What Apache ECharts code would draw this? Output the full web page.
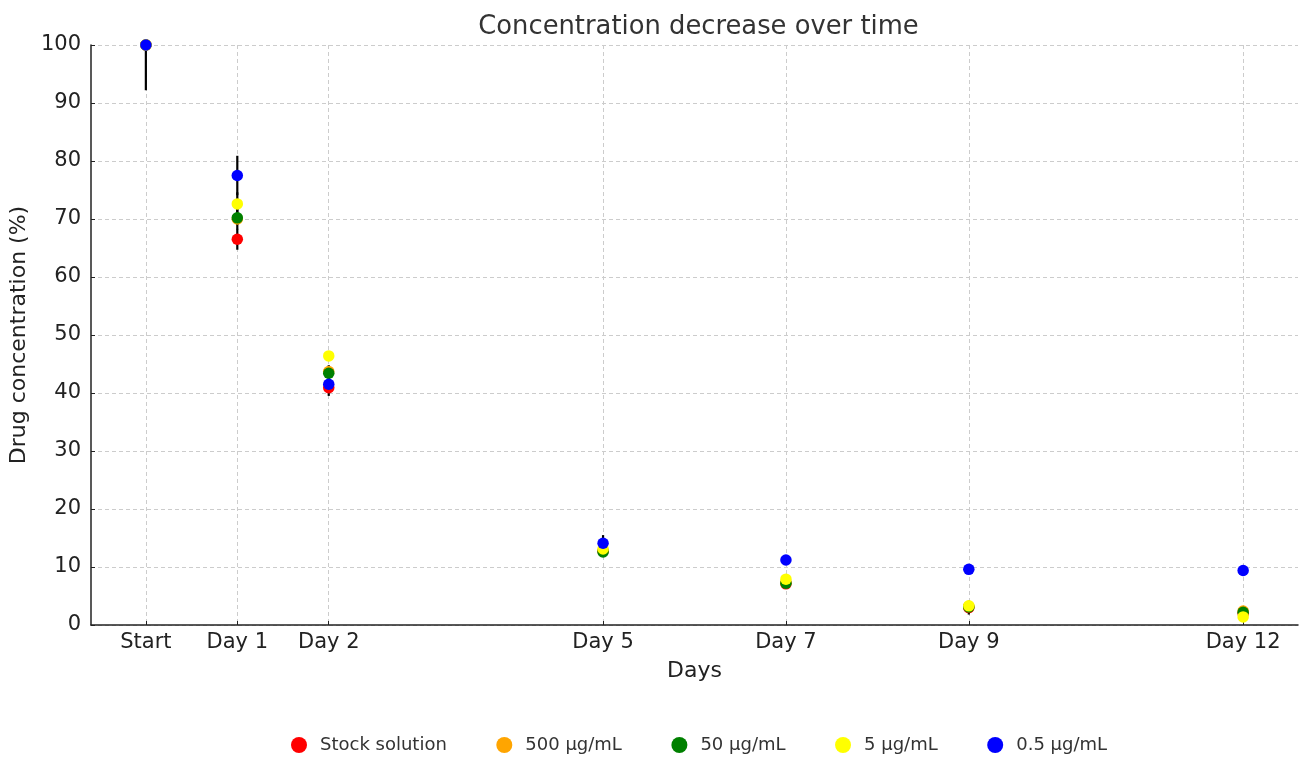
<!DOCTYPE html>
<html>
<head>
<meta charset="utf-8">
<script src="https://cdn.jsdelivr.net/npm/echarts@6/dist/echarts.min.js"></script>
<style>html,body{margin:0;padding:0;background:#fff}#c{width:1301px;height:758px}</style>
</head>
<body>
<div id="c"></div>
<script>
const dayValues = [0, 1, 2, 5, 7, 9, 12];
const dayLabels = ['Start', 'Day 1', 'Day 2', 'Day 5', 'Day 7', 'Day 9', 'Day 12'];
const seriesNames = ['Stock solution', '500 µg/mL', '50 µg/mL', '5 µg/mL', '0.5 µg/mL'];
const seriesColors = ['#ff0000', '#ffa500', '#008000', '#ffff00', '#0000ff'];
const stockMean = [100, 66.5, 40.9, 12.7, 7.1, 3.0, 2.0];
const stockErr  = [7.8, 1.8, 1.4, 0.5, 0.4, 1.2, 0.4];
const c500Mean  = [100, 70.0, 43.7, 12.8, 7.3, 3.2, 2.4];
const c500Err   = [0.5, 1.0, 0.8, 0.5, 0.4, 0.5, 0.4];
const c50Mean   = [100, 70.2, 43.4, 12.6, 7.2, 3.1, 2.2];
const c50Err    = [0.5, 2.0, 1.4, 0.5, 0.4, 0.5, 0.4];
const c5Mean    = [100, 72.6, 46.4, 13.1, 7.9, 3.3, 1.4];
const c5Err     = [0.5, 2.0, 0.5, 0.5, 0.4, 0.5, 0.4];
const c05Mean   = [100, 77.5, 41.5, 14.1, 11.2, 9.6, 9.4];
const c05Err    = [0.5, 3.4, 1.0, 1.4, 0.4, 0.4, 0.4];

const means = [stockMean, c500Mean, c50Mean, c5Mean, c05Mean];
const errs = [stockErr, c500Err, c50Err, c5Err, c05Err];

const chart = echarts.init(document.getElementById('c'));
const series = [];
means.forEach((m, i) => {
  series.push({
    type: 'custom',
    name: seriesNames[i],
    z: 2,
    clip: true,
    silent: true,
    data: dayValues.map((d, k) => [d, m[k] - errs[i][k], m[k] + errs[i][k]]),
    renderItem: function (params, api) {
      const lo = api.coord([api.value(0), api.value(1)]);
      const hi = api.coord([api.value(0), api.value(2)]);
      return {
        type: 'line',
        shape: { x1: lo[0], y1: lo[1], x2: hi[0], y2: hi[1] },
        style: { stroke: '#000', lineWidth: 2.2 }
      };
    },
    encode: { x: 0, y: [1, 2] },
    itemStyle: { color: seriesColors[i] }
  });
});
means.forEach((m, i) => {
  series.push({
    type: 'scatter',
    name: seriesNames[i],
    z: 3 + i,
    symbol: 'circle',
    symbolSize: 11.5,
    itemStyle: { color: seriesColors[i], opacity: 1 },
    data: dayValues.map((d, k) => [d, m[k]])
  });
});

const labelMap = {};
dayValues.forEach((d, k) => { labelMap[d] = dayLabels[k]; });

chart.setOption({
  animation: false,
  backgroundColor: '#fff',
  textStyle: { fontFamily: 'DejaVu Sans' },
  title: {
    text: 'Concentration decrease over time',
    left: 693.5, top: 9, textAlign: 'center',
    textStyle: { fontFamily: 'DejaVu Sans', fontSize: 25.8, fontWeight: 'normal', color: '#333' }
  },
  legend: {
    data: seriesNames,
    bottom: -1,
    left: 286,
    icon: 'circle',
    itemWidth: 16, itemHeight: 16,
    itemGap: 49.5,
    textStyle: { fontFamily: 'DejaVu Sans', fontSize: 18, color: '#333', padding: [0, 0, 0, 8] }
  },
  grid: { left: 91, right: 3, top: 45, bottom: 133, containLabel: false },
  xAxis: {
    type: 'value',
    min: -0.6, max: 12.6,
    name: 'Days',
    nameLocation: 'middle',
    nameGap: 35,
    nameTextStyle: { fontFamily: 'DejaVu Sans', fontSize: 22, color: '#222' },
    axisLine: { show: true, onZero: false, lineStyle: { color: '#222', width: 1.5 } },
    axisTick: { show: true, inside: true, length: 4, customValues: dayValues, lineStyle: { color: '#222' } },
    axisLabel: {
      customValues: dayValues,
      formatter: v => labelMap[v] !== undefined ? labelMap[v] : '',
      fontFamily: 'DejaVu Sans', fontSize: 21, color: '#222', margin: 7
    },
    splitLine: { show: true, customValues: dayValues, lineStyle: { color: '#cccccc', type: [4, 3], width: 1 } }
  },
  yAxis: {
    type: 'value',
    min: 0, max: 100, interval: 10,
    name: 'Drug concentration (%)',
    nameLocation: 'middle',
    nameGap: 54,
    nameTextStyle: { fontFamily: 'DejaVu Sans', fontSize: 22, color: '#222' },
    axisLine: { show: true, onZero: false, lineStyle: { color: '#222', width: 1.5 } },
    axisTick: { show: true, inside: true, length: 4, lineStyle: { color: '#222' } },
    axisLabel: { fontFamily: 'DejaVu Sans', fontSize: 21, color: '#222', margin: 10 },
    splitLine: { show: true, lineStyle: { color: '#cccccc', type: [4, 3], width: 1 } }
  },
  series: series
});
</script>
</body>
</html>
